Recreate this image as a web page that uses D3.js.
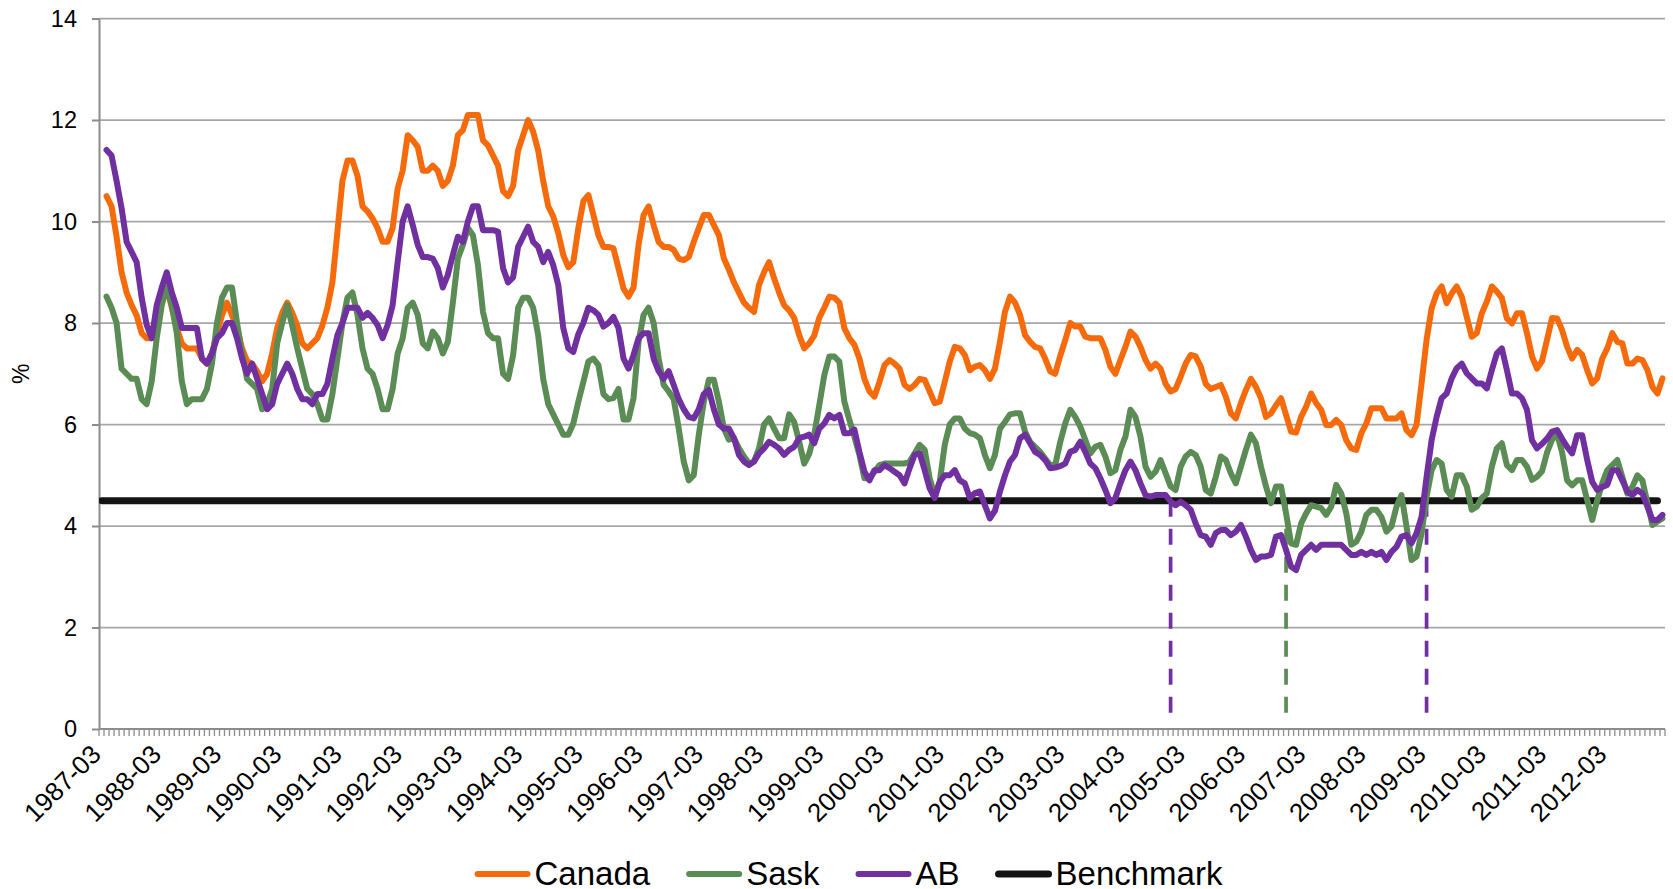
<!DOCTYPE html>
<html>
<head>
<meta charset="utf-8">
<script src="https://cdn.jsdelivr.net/npm/d3@7"></script>
<style>
  body { margin: 0; background: #fff; overflow: hidden; }
  svg { display: block; }
  text { font-family: "Liberation Sans", Arial, sans-serif; fill: #000; }
</style>
</head>
<body>
<div id="chart"></div>
<script>
// Monthly categories, 1987-03 .. 2013-02
const categories = []
for (let yr = 1987, mo = 3; categories.length < 312; ) {
  categories.push(`${yr}-${String(mo).padStart(2, '0')}`)
  mo++
  if (mo > 12) { mo = 1; yr++ }
}

const yTicks = [0, 2, 4, 6, 8, 10, 12, 14]
const xTickLabels = categories.filter((d, i) => i % 12 === 0)

const canada = [null,
  10.5,10.3,9.7,9.0,8.6,8.35,8.15,7.8,7.7,7.7,
  8.2,8.5,8.7,8.3,7.9,7.6,7.5,7.5,7.5,7.3,
  7.2,7.4,7.8,8.15,8.4,8.15,7.9,7.5,7.25,7.2,
  7.05,6.85,7.0,7.4,7.9,8.2,8.4,8.2,7.95,7.6,
  7.5,7.6,7.7,7.95,8.3,8.8,9.8,10.8,11.2,11.2,
  10.9,10.3,10.2,10.06,9.87,9.6,9.6,9.87,10.65,11.0,
  11.7,11.6,11.47,11.0,11.0,11.1,11.0,10.7,10.8,11.1,
  11.7,11.8,12.1,12.1,12.1,11.6,11.5,11.3,11.1,10.6,
  10.5,10.7,11.4,11.7,12.0,11.77,11.4,10.8,10.3,10.1,
  9.77,9.34,9.1,9.2,9.87,10.4,10.52,10.13,9.73,9.5,
  9.5,9.47,9.08,8.68,8.52,8.7,9.54,10.13,10.3,9.93,
  9.6,9.5,9.5,9.44,9.27,9.24,9.3,9.6,9.87,10.13,
  10.13,9.93,9.73,9.27,9.05,8.8,8.6,8.4,8.3,8.22,
  8.75,9.0,9.2,8.88,8.6,8.35,8.25,8.1,7.76,7.5,
  7.6,7.75,8.1,8.3,8.52,8.5,8.4,7.9,7.7,7.57,
  7.3,6.9,6.65,6.55,6.84,7.17,7.27,7.2,
  7.1,6.78,6.7,
  6.78,6.9,6.88,6.65,6.42,6.45,6.84,7.24,7.53,7.5,
  7.37,7.07,7.14,7.17,7.07,6.9,7.1,7.63,8.22,8.52,
  8.4,8.16,7.76,7.63,7.53,7.5,7.3,7.05,7.0,7.35,
  7.66,8.0,7.93,7.93,7.73,7.7,7.7,7.7,7.47,7.14,
  7.0,7.27,7.53,7.83,7.73,7.53,7.27,7.1,7.2,7.1,
  6.8,6.65,6.7,6.94,7.2,7.37,7.34,7.14,6.8,6.7,
  6.74,6.78,6.55,6.22,6.12,6.42,6.68,6.9,6.74,6.52,
  6.15,6.22,6.38,6.52,6.19,5.86,5.84,6.15,6.35,6.61,
  6.42,6.29,5.99,5.99,6.09,5.99,5.69,5.53,5.5,5.83,
  6.02,6.32,6.32,6.32,6.12,6.12,6.12,6.22,5.89,5.79,
  5.99,6.81,7.67,8.29,8.58,8.72,8.39,8.58,8.72,8.52,
  8.12,7.73,7.8,8.19,8.42,8.72,8.62,8.49,8.09,7.99,
  8.19,8.19,7.8,7.34,7.1,7.25,7.67,8.1,8.09,7.86,
  7.53,7.3,7.47,7.37,7.07,6.81,6.91,7.3,7.5,7.8,
  7.63,7.6,7.2,7.2,7.3,7.27,7.07,6.74,6.61,6.91]

const sask = [null,
  8.52,8.3,8.0,7.1,7.0,6.9,6.9,6.5,6.4,6.85,
  7.7,8.35,8.7,8.35,7.8,6.85,6.4,6.5,6.5,6.5,
  6.7,7.2,8.0,8.5,8.7,8.7,8.0,7.4,6.9,6.8,
  6.7,6.3,6.4,6.7,7.6,8.0,8.35,7.95,7.5,7.1,
  6.7,6.6,6.4,6.1,6.1,6.6,7.3,8.0,8.5,8.6,
  8.16,7.5,7.1,7.0,6.7,6.3,6.3,6.7,7.4,7.7,
  8.3,8.4,8.16,7.6,7.5,7.83,7.7,7.4,7.63,8.4,
  9.27,9.54,9.87,9.73,9.14,8.22,7.8,7.7,7.7,7.0,
  6.9,7.36,8.3,8.5,8.5,8.3,7.76,6.9,6.4,6.2,
  6.0,5.8,5.8,6.02,6.45,6.84,7.24,7.3,7.17,6.6,
  6.5,6.52,6.7,6.1,6.1,6.52,7.63,8.16,8.3,8.0,
  7.3,6.78,6.65,6.5,5.92,5.27,4.9,5.0,5.8,6.45,
  6.88,6.88,6.45,5.92,5.7,5.73,5.53,5.37,5.23,5.27,
  5.53,6.0,6.12,5.92,5.73,5.73,6.2,6.05,5.66,5.23,
  5.42,5.8,6.38,6.97,7.34,7.34,7.24,6.45,6.09,5.76,
  5.4,4.94,4.94,5.07,5.2,5.23,5.23,5.23,
  5.23,5.23,5.27,
  5.43,5.6,5.5,4.94,4.6,4.87,5.6,6.0,6.12,6.12,
  5.92,5.83,5.8,5.73,5.4,5.14,5.4,5.92,6.05,6.2,
  6.22,6.22,5.86,5.66,5.56,5.46,5.33,5.2,5.2,5.65,
  6.02,6.29,6.15,5.96,5.7,5.43,5.56,5.6,5.37,5.04,
  5.1,5.5,5.76,6.29,6.15,5.76,5.17,4.97,5.07,5.3,
  5.04,4.78,4.71,5.17,5.37,5.46,5.4,5.17,4.71,4.64,
  4.97,5.37,5.3,5.04,4.84,5.17,5.5,5.8,5.63,5.17,
  4.78,4.45,4.78,4.78,4.25,3.66,3.63,4.05,4.25,4.41,
  4.38,4.35,4.22,4.38,4.81,4.64,4.25,3.63,3.69,3.89,
  4.22,4.32,4.32,4.18,3.89,3.99,4.38,4.61,3.99,3.33,
  3.4,3.86,4.58,5.1,5.3,5.23,4.71,4.58,5.0,5.0,
  4.78,4.32,4.38,4.55,4.64,5.17,5.53,5.63,5.2,5.1,
  5.3,5.3,5.17,4.91,4.97,5.08,5.45,5.7,5.82,5.45,
  4.9,4.8,4.9,4.9,4.51,4.12,4.51,4.84,5.1,5.2,
  5.3,4.97,4.64,4.77,5.0,4.9,4.45,4.02,4.09,4.15]

const ab = [null,
  11.41,11.3,10.8,10.26,9.6,9.4,9.2,8.5,7.96,7.7,
  8.35,8.7,9.0,8.6,8.3,7.9,7.9,7.9,7.9,7.3,
  7.2,7.4,7.7,7.8,8.0,8.0,7.7,7.3,7.0,7.2,
  6.9,6.6,6.3,6.4,6.8,7.0,7.2,7.0,6.7,6.5,
  6.5,6.4,6.6,6.6,6.8,7.3,7.76,8.0,8.3,8.3,
  8.3,8.1,8.2,8.1,7.96,7.7,7.96,8.35,9.2,10.0,
  10.3,9.93,9.54,9.3,9.3,9.27,9.08,8.7,8.95,9.34,
  9.7,9.6,10.0,10.3,10.3,9.83,9.83,9.83,9.8,9.08,
  8.8,8.9,9.5,9.7,9.9,9.6,9.5,9.2,9.4,9.14,
  8.75,7.9,7.5,7.43,7.78,8.0,8.3,8.25,8.16,7.93,
  8.0,8.12,7.9,7.3,7.1,7.37,7.7,7.8,7.8,7.3,
  7.05,6.9,7.05,6.78,6.5,6.3,6.15,6.12,6.3,6.6,
  6.68,6.3,6.0,5.92,5.92,5.73,5.4,5.27,5.2,5.27,
  5.43,5.53,5.66,5.6,5.53,5.4,5.5,5.56,5.73,5.76,
  5.8,5.63,5.92,6.02,6.19,6.12,6.19,5.83,5.83,5.9,
  5.46,5.07,4.9,5.1,5.1,5.2,5.14,5.07,
  5.0,4.84,5.14,
  5.4,5.43,5.1,4.74,4.55,4.87,5.0,5.0,5.1,4.9,
  4.84,4.55,4.65,4.68,4.41,4.15,4.3,4.68,5.0,5.27,
  5.4,5.73,5.8,5.63,5.46,5.4,5.3,5.14,5.15,5.18,
  5.23,5.46,5.5,5.66,5.46,5.23,5.14,4.94,4.71,4.45,
  4.55,4.84,5.1,5.27,5.1,4.84,4.61,4.58,4.61,4.61,
  4.61,4.48,4.41,4.48,4.41,4.32,4.05,3.82,3.79,3.63,
  3.86,3.92,3.92,3.82,3.89,4.02,3.79,3.53,3.33,3.4,
  3.4,3.43,3.79,3.82,3.53,3.2,3.13,3.43,3.53,3.63,
  3.53,3.63,3.63,3.63,3.63,3.63,3.53,3.43,3.43,3.49,
  3.43,3.49,3.43,3.49,3.33,3.49,3.59,3.79,3.82,3.66,
  3.86,4.18,4.97,5.69,6.15,6.52,6.61,6.91,7.11,7.2,
  7.01,6.91,6.81,6.81,6.71,7.07,7.4,7.5,7.07,6.61,
  6.61,6.52,6.29,5.69,5.53,5.62,5.72,5.86,5.89,5.72,
  5.56,5.43,5.79,5.79,5.3,4.87,4.71,4.77,4.81,5.1,
  5.1,4.9,4.68,4.61,4.71,4.64,4.38,4.12,4.12,4.22]

// Benchmark level and the span it is drawn over
const benchmark = { value: 4.5, from: '1987-03', to: '2013-01' }

// Months where the provincial rates cross the benchmark (dashed drop lines)
const crossings = [
  { date: '2004-12', series: 'AB' },
  { date: '2006-11', series: 'Sask' },
  { date: '2009-03', series: 'AB' }
]
const dropLineBottom = 0.28

const series = [
  { name: 'Canada', values: canada, color: '#f56b0c' },
  { name: 'Sask', values: sask, color: '#5b8c55' },
  { name: 'AB', values: ab, color: '#7030a0' }
]
const colors = { Canada: '#f56b0c', Sask: '#5b8c55', AB: '#7030a0', Benchmark: '#141414' }

// Vars for dimensions
const width = 1673
const height = 889
const margin = { top: 18.5, right: 8, bottom: 160, left: 99 }
const innerWidth = width - margin.left - margin.right
const innerHeight = height - margin.top - margin.bottom

const svg = d3.select('#chart')
  .append('svg')
  .attr('width', width)
  .attr('height', height)

const g = svg.append('g')
  .attr('transform', `translate(${margin.left}, ${margin.top})`)

// Scales
const x = d3.scaleBand().domain(categories).range([0, innerWidth]).padding(0)
const xc = d => x(d) + x.bandwidth() / 2
const y = d3.scaleLinear().domain([0, 14]).range([innerHeight, 0])

g.append('clipPath').attr('id', 'plot-clip')
  .append('rect')
  .attr('x', 0).attr('y', -10)
  .attr('width', innerWidth + 10).attr('height', innerHeight + 10)

// Y gridlines
g.append('g')
  .selectAll('line')
  .data(yTicks.filter(d => d > 0))
  .join('line')
  .attr('x1', 0).attr('x2', innerWidth)
  .attr('y1', d => y(d)).attr('y2', d => y(d))
  .attr('stroke', '#a6a6a6')
  .attr('stroke-width', 1.75)

// Left axis
const yAxis = g.append('g')
  .call(d3.axisLeft(y).tickValues(yTicks).tickSize(7).tickSizeOuter(0).tickPadding(15))
yAxis.select('.domain').attr('stroke', '#8c8c8c').attr('stroke-width', 2)
yAxis.selectAll('.tick line').attr('stroke', '#8c8c8c').attr('stroke-width', 2)
yAxis.selectAll('.tick text')
  .attr('font-size', 23.5)
  .attr('font-family', '"Liberation Sans", Arial, sans-serif')
  .attr('fill', '#000')

g.append('text')
  .attr('transform', `translate(${-margin.left + 21}, ${innerHeight / 2}) rotate(-90)`)
  .attr('text-anchor', 'middle')
  .attr('dy', '0.35em')
  .attr('font-size', 23)
  .text('%')

// Bottom axis - month ticks between categories
g.append('g')
  .selectAll('line')
  .data(d3.range(categories.length + 1))
  .join('line')
  .attr('x1', k => k * x.step()).attr('x2', k => k * x.step())
  .attr('y1', innerHeight).attr('y2', innerHeight + 7)
  .attr('stroke', '#8c8c8c')
  .attr('stroke-width', 1.3)

g.append('line')
  .attr('x1', 0).attr('x2', innerWidth)
  .attr('y1', innerHeight).attr('y2', innerHeight)
  .attr('stroke', '#8c8c8c')
  .attr('stroke-width', 2)

g.append('g')
  .selectAll('text')
  .data(xTickLabels)
  .join('text')
  .attr('transform', d => `translate(${xc(d) + 1}, ${innerHeight + 27}) rotate(-45)`)
  .attr('text-anchor', 'end')
  .attr('font-size', 26)
  .text(d => d)

// Dashed drop lines
g.append('g')
  .selectAll('line')
  .data(crossings)
  .join('line')
  .attr('x1', d => xc(d.date)).attr('x2', d => xc(d.date))
  .attr('y1', y(benchmark.value)).attr('y2', y(dropLineBottom))
  .attr('stroke', d => colors[d.series])
  .attr('stroke-width', 3.7)
  .attr('stroke-dasharray', '16,12')

const plot = g.append('g').attr('clip-path', 'url(#plot-clip)')

// Benchmark line
plot.append('line')
  .attr('x1', xc(benchmark.from)).attr('x2', xc(benchmark.to))
  .attr('y1', y(benchmark.value)).attr('y2', y(benchmark.value))
  .attr('stroke', colors.Benchmark)
  .attr('stroke-width', 7)
  .attr('stroke-linecap', 'round')

// Series lines
const line = d3.line()
  .defined(d => d != null)
  .x((d, i) => xc(categories[i]))
  .y(d => y(d))

plot.selectAll('path.series')
  .data(series)
  .join('path')
  .attr('class', 'series')
  .attr('d', d => line(d.values))
  .attr('fill', 'none')
  .attr('stroke', d => d.color)
  .attr('stroke-width', 6)
  .attr('stroke-linejoin', 'round')
  .attr('stroke-linecap', 'round')

// Legend
const legendItems = ['Canada', 'Sask', 'AB', 'Benchmark']
const legend = svg.append('g')
const legendY = 874
let cursor = 0
const placed = []
legendItems.forEach(name => {
  const item = legend.append('g')
  item.append('line')
    .attr('x1', 3).attr('x2', 53)
    .attr('y1', legendY).attr('y2', legendY)
    .attr('stroke', colors[name])
    .attr('stroke-width', name === 'Benchmark' ? 7 : 6)
    .attr('stroke-linecap', 'round')
  const t = item.append('text')
    .attr('x', 60)
    .attr('y', legendY + 11)
    .attr('font-size', 33)
    .text(name)
  const w = t.node().getComputedTextLength()
  placed.push({ item, at: cursor })
  cursor += 60 + w + 36
})
const total = cursor - 36
const start = 848.5 - total / 2
placed.forEach(p => p.item.attr('transform', `translate(${start + p.at}, 0)`))
</script>
</body>
</html>
